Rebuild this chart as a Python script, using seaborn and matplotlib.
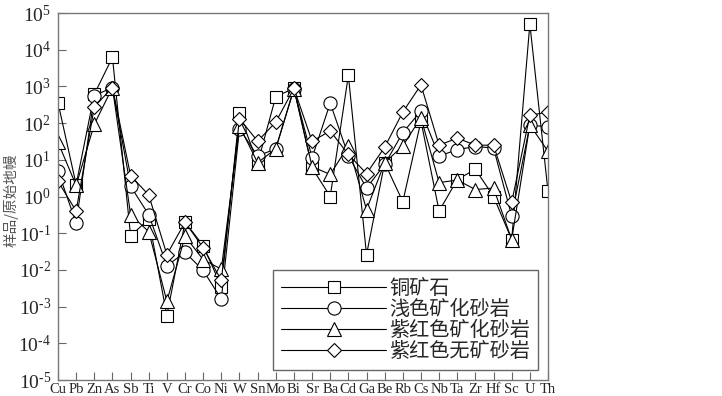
import matplotlib
matplotlib.use("Agg")
import matplotlib.pyplot as plt
import seaborn as sns
import pandas as pd

# ============================== Data ==============================
elements = ["Cu", "Pb", "Zn", "As", "Sb", "Ti", "V", "Cr", "Co", "Ni", "W", "Sn", "Mo", "Bi",
            "Sr", "Ba", "Cd", "Ga", "Be", "Rb", "Cs", "Nb", "Ta", "Zr", "Hf", "Sc", "U", "Th"]

ore = [360, 2.1, 610, 6200, 0.085, 0.24, 0.00057, 0.2, 0.046, 0.0035, 185, 8, 530, 880,
       6, 1.0, 2000, 0.026, 8.3, 0.72, 114, 0.40, 2.9, 5.5, 1.0, 0.067, 50000, 1.4]
light_sand = [5, 0.19, 560, 930, 1.9, 0.32, 0.013, 0.03, 0.0097, 0.0016, 70, 12.6, 20, 850,
              11.4, 350, 13, 1.7, 7.5, 55, 215, 12.6, 19, 23, 21, 0.29, 87, 80]
red_mineral = [30, 2.0, 93, 930, 0.32, 0.11, 0.0014, 0.083, 0.019, 0.0105, 83, 8.3, 20, 870,
               6.5, 4, 24, 0.44, 8.3, 24, 141, 2.4, 2.8, 1.55, 1.7, 0.067, 90, 17]
red_barren = [2.6, 0.4, 280, 930, 3.7, 1.1, 0.026, 0.2, 0.04, 0.0052, 133, 32, 107, 880,
              32, 61, 14, 4.2, 22, 200, 1100, 25, 39, 25, 25, 0.70, 163, 200]

series_names = ["铜矿石", "浅色矿化砂岩", "紫红色矿化砂岩", "紫红色无矿砂岩"]
series_values = [ore, light_sand, red_mineral, red_barren]
series_markers = ["s", "o", "^", "D"]
marker_sizes = [9, 9.5, 9.5, 7.5]
exponents = list(range(-5, 6))

# ============================== Plot ==============================
sns.set_style("ticks")
plt.rcParams["font.family"] = ["Liberation Serif", "Noto Sans CJK SC", "DejaVu Sans"]

fig = plt.figure(figsize=(7.22, 3.96), dpi=100)
ax = fig.add_axes([58 / 722, 16 / 396, 490 / 722, 367 / 396])

for name, vals, mk, ms in zip(series_names, series_values, series_markers, marker_sizes):
    df = pd.DataFrame({"idx": range(len(elements)), "value": vals})
    sns.lineplot(data=df, x="idx", y="value", ax=ax, color="black", linewidth=0.8,
                 marker=mk, markersize=ms, markerfacecolor="white",
                 markeredgecolor="black", markeredgewidth=0.8, label=name)

ax.set_yscale("log")
ax.set_ylim(1e-5, 1e5)
ax.set_xlim(0, len(elements) - 1)
ax.set_yticks([10.0 ** k for k in exponents])
# short hyphen in the exponent, like the original figure
ylabels = [r"$\mathregular{10^{%s}}$" % (("\u2010%d" % -k) if k < 0 else "%d" % k) for k in exponents]
ax.set_yticklabels(ylabels, fontsize=14)
ax.minorticks_off()
ax.set_xticks(range(len(elements)))
ax.set_xticklabels(elements, fontsize=10.5)
ax.tick_params(axis="both", direction="in", length=6, width=0.8, color="#666666")
ax.tick_params(axis="x", pad=2)
ax.tick_params(axis="y", pad=5)
ax.set_xlabel("")
ax.set_ylabel("样品/原始地幔", family=["Noto Sans CJK SC", "DejaVu Sans"],
              fontsize=10.5, color="#555555")
ax.yaxis.set_label_coords(-0.080, 0.49)

for sp in ax.spines.values():
    sp.set_color("#777777")
    sp.set_linewidth(1.0)

leg = ax.legend(loc="lower left", bbox_to_anchor=(0.439, 0.027), frameon=True, fancybox=False,
                edgecolor="#666666", framealpha=1, handlelength=5.2, handletextpad=0.15,
                labelspacing=0.0, borderpad=0.4, borderaxespad=0,
                prop={"family": ["Noto Sans CJK SC", "DejaVu Sans"], "size": 14.5})
leg.get_frame().set_linewidth(1.0)

fig.savefig("out.png", dpi=100)
